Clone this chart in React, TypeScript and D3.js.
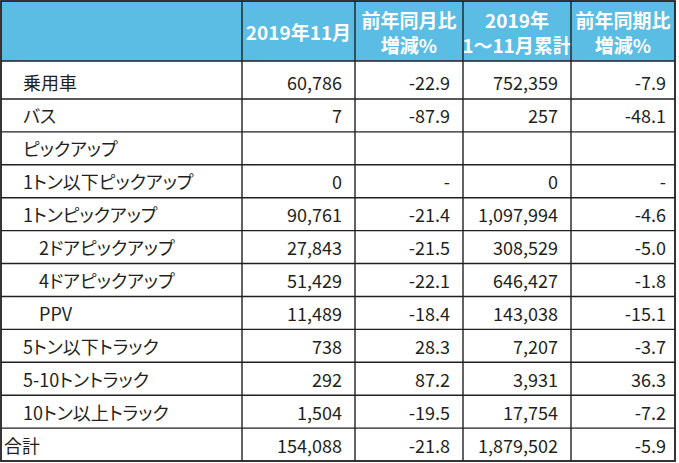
import React, { useEffect, useRef } from "react";
import * as d3 from "d3";

const categories = [
  "乗用車", "バス", "ピックアップ", "1トン以下ピックアップ", "1トンピックアップ",
  "2ドアピックアップ", "4ドアピックアップ", "PPV", "5トン以下トラック",
  "5-10トントラック", "10トン以上トラック", "合計",
];
const indentLevels = [1, 1, 1, 1, 1, 2, 2, 2, 1, 1, 1, 0];
const nov2019 = ["60,786", "7", "", "0", "90,761", "27,843", "51,429", "11,489", "738", "292", "1,504", "154,088"];
const novYoY = ["-22.9", "-87.9", "", "-", "-21.4", "-21.5", "-22.1", "-18.4", "28.3", "87.2", "-19.5", "-21.8"];
const cum2019 = ["752,359", "257", "", "0", "1,097,994", "308,529", "646,427", "143,038", "7,207", "3,931", "17,754", "1,879,502"];
const cumYoY = ["-7.9", "-48.1", "", "-", "-4.6", "-5.0", "-1.8", "-15.1", "-3.7", "36.3", "-7.2", "-5.9"];
const headers: string[][] = [[""], ["2019年11月"], ["前年同月比", "増減%"], ["2019年", "1～11月累計"], ["前年同期比", "増減%"]];

const W = 679, H = 463;
const colEdges = [1, 242, 355, 463, 571, 675];
const headerTop = 1, headerBottom = 61, firstRowBottom = 99, tableBottom = 461;
const FONT = "'Noto Sans CJK JP', 'Noto Sans', sans-serif";
const LINE = "#231f20";

export default function App() {
  const ref = useRef<SVGSVGElement>(null);
  useEffect(() => {
    document.body.style.margin = "0";
    const svg = d3.select(ref.current);
    svg.selectAll("*").remove();

    const rowScale = d3.scaleLinear().domain([1, categories.length]).range([firstRowBottom, tableBottom]);
    const rowTop = (i: number) => (i === 0 ? headerBottom : rowScale(i));
    const rowBot = (i: number) => rowScale(i + 1);

    svg.append("rect").attr("x", colEdges[0]).attr("y", headerTop)
      .attr("width", colEdges[5] - colEdges[0]).attr("height", headerBottom - headerTop)
      .attr("fill", "#5bbce4");
    svg.append("rect").attr("x", colEdges[0]).attr("y", headerBottom)
      .attr("width", colEdges[5] - colEdges[0]).attr("height", tableBottom - headerBottom)
      .attr("fill", "#ffffff");

    headers.forEach((lines, c) => {
      const cx = (colEdges[c] + colEdges[c + 1]) / 2;
      const ys = lines.length === 1 ? [31] : [19, 44];
      lines.forEach((t, k) => {
        svg.append("text").attr("x", cx).attr("y", ys[k])
          .attr("text-anchor", "middle").attr("dominant-baseline", "central")
          .attr("font-family", FONT).attr("font-weight", "bold").attr("font-size", 19)
          .style("font-feature-settings", "'palt'")
          .attr("fill", "#ffffff").text(t);
      });
    });

    const cols = [nov2019, novYoY, cum2019, cumYoY];
    categories.forEach((cat, i) => {
      const cy = i === 0 ? 82 : (rowTop(i) + rowBot(i)) / 2;
      const indent = [3, 22, 38][indentLevels[i]];
      svg.append("text").attr("x", colEdges[0] + indent).attr("y", cy)
        .attr("dominant-baseline", "central").attr("font-family", FONT)
        .style("font-feature-settings", "'palt'")
        .attr("font-size", 18).attr("fill", "#231f20").text(cat);
      cols.forEach((arr, c) => {
        const rightPad = c === 3 ? 9 : 13;
        svg.append("text").attr("x", colEdges[c + 2] - rightPad).attr("y", cy)
          .attr("text-anchor", "end").attr("dominant-baseline", "central")
          .attr("font-family", FONT).attr("font-size", 18).attr("fill", "#231f20")
          .text(arr[i]);
      });
    });

    const g = svg.append("g").attr("stroke", LINE).attr("stroke-width", 1.4);
    const hLines = [headerBottom, ...d3.range(1, categories.length).map((i) => rowScale(i))];
    hLines.forEach((y) => {
      g.append("line").attr("x1", colEdges[0]).attr("x2", colEdges[5]).attr("y1", y).attr("y2", y);
    });
    colEdges.slice(1, 5).forEach((x) => {
      g.append("line").attr("x1", x).attr("x2", x).attr("y1", headerTop).attr("y2", tableBottom);
    });
    svg.append("rect").attr("x", colEdges[0]).attr("y", headerTop)
      .attr("width", colEdges[5] - colEdges[0]).attr("height", tableBottom - headerTop)
      .attr("fill", "none").attr("stroke", LINE).attr("stroke-width", 1.8);
  }, []);
  return <svg ref={ref} width={W} height={H} style={{ display: "block", background: "#fff" }} />;
}
